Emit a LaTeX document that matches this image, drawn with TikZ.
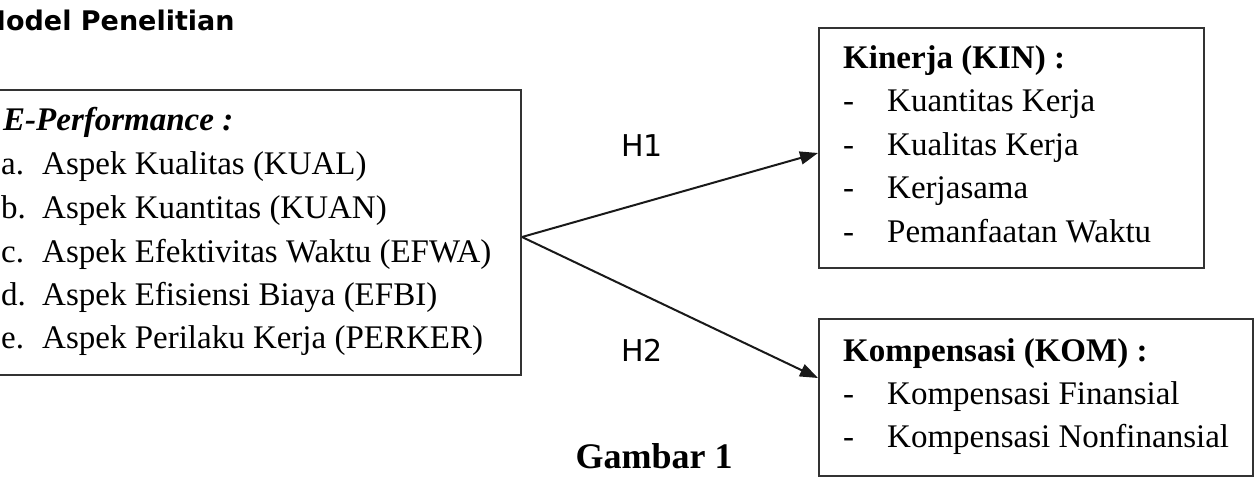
\documentclass[tikz,border=0pt]{standalone}
\usepackage{fontspec}
\setmainfont{Liberation Serif}
\newfontfamily\dejavu{DejaVu Sans}
\usetikzlibrary{arrows.meta}
\begin{document}
\begin{tikzpicture}[x=1pt,y=-1pt,
  box/.style={draw=black!80, line width=2pt, inner sep=0pt, anchor=north west},
  txt/.style={inner sep=0pt, anchor=base west, font=\fontsize{33}{40}\selectfont},
  btxt/.style={txt, font=\fontsize{33}{40}\selectfont\bfseries},
  hlab/.style={inner sep=0pt, anchor=base west, font=\dejavu\fontsize{30}{36}\selectfont},
  arr/.style={line width=2pt, black!90, -{Triangle[length=18pt,width=13pt]}}]
\useasboundingbox (0,0) rectangle (1259,480);

% title
\node[inner sep=0pt, anchor=base west, font=\dejavu\bfseries\fontsize{27}{32}\selectfont] (title) at (-21,30) {Model Penelitian};

% left box
\node[box, minimum width=540pt, minimum height=285pt] (ep) at (-20,89) {};
\node[txt, font=\fontsize{33}{40}\selectfont\bfseries\itshape] (ept) at (3,130) {E-Performance :};
\node[txt] (la) at (1,174) {a.};
\node[txt] (ia) at (42,174) {Aspek Kualitas (KUAL)};
\node[txt] (lb) at (1,218) {b.};
\node[txt] (ib) at (42,218) {Aspek Kuantitas (KUAN)};
\node[txt] (lc) at (1,262) {c.};
\node[txt] (ic) at (42,262) {Aspek Efektivitas Waktu (EFWA)};
\node[txt] (ld) at (1,305) {d.};
\node[txt] (id) at (42,305) {Aspek Efisiensi Biaya (EFBI)};
\node[txt] (le) at (1,348) {e.};
\node[txt] (ie) at (42,348) {Aspek Perilaku Kerja (PERKER)};

% Kinerja box
\node[box, minimum width=385pt, minimum height=240pt] (kin) at (818,27) {};
\node[btxt] (kint) at (843,68) {Kinerja (KIN) :};
\node[txt] (k1d) at (843,111) {-};
\node[txt] (k1) at (887,111) {Kuantitas Kerja};
\node[txt] (k2d) at (843,155) {-};
\node[txt] (k2) at (887,155) {Kualitas Kerja};
\node[txt] (k3d) at (843,198) {-};
\node[txt] (k3) at (887,198) {Kerjasama};
\node[txt] (k4d) at (843,242) {-};
\node[txt] (k4) at (887,242) {Pemanfaatan Waktu};

% Kompensasi box
\node[box, minimum width=434pt, minimum height=157pt] (kom) at (818,318) {};
\node[btxt] (komt) at (843,361) {Kompensasi (KOM) :};
\node[txt] (m1d) at (843,404) {-};
\node[txt] (m1) at (887,404) {Kompensasi Finansial};
\node[txt] (m2d) at (843,447) {-};
\node[txt] (m2) at (887,447) {Kompensasi Nonfinansial};

% arrows
\coordinate (src) at ([yshift=-4.5pt]ep.east);
\draw[arr] (src) -- ([yshift=-5pt]kin.west);
\draw[arr] (src) -- ([yshift=19.5pt]kom.west);
\node[hlab] (h1) at (621,156) {H1};
\node[hlab] (h2) at (621,361) {H2};

% caption
\node[inner sep=0pt, anchor=base, font=\fontsize{36}{43}\selectfont\bfseries] (cap) at (654,468) {Gambar 1};
\end{tikzpicture}
\end{document}
